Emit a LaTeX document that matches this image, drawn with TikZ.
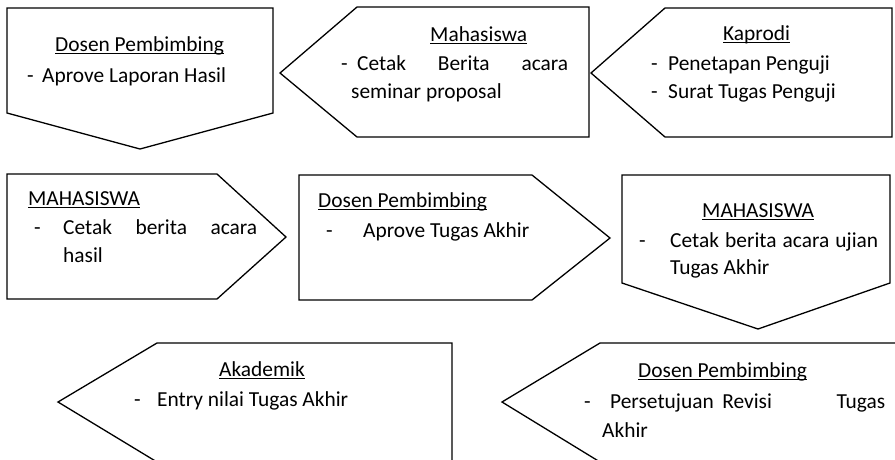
\documentclass[tikz,border=0pt]{standalone}
\usepackage{fontspec}
\setmainfont{Carlito}

\begin{document}
\begin{tikzpicture}[x=1pt,y=-1pt,
  box/.style={draw=black,line width=1.3pt,line join=miter},
  txt/.style={anchor=base west,inner sep=0pt,font=\fontsize{21.4}{28}\selectfont},
  uline/.style={line width=1.2pt}]
\useasboundingbox (0,0) rectangle (895,459);
\clip (0,0) rectangle (895,459);

% row 1
\draw[box] (7,8) -- (273,8) -- (273,113) -- (140,149) -- (7,113) -- cycle;
\node[txt] (dosA) at (55,51) {Dosen Pembimbing};
\node[txt] (dosAd) at (27,82) {-};
\node[txt] (dosAt) at (42,82) {Aprove Laporan Hasil};

\draw[box] (280,73) -- (357,7) -- (589,7) -- (589,137) -- (357,137) -- cycle;
\node[txt] (mhsA) at (430,41) {Mahasiswa};
\node[txt] (mhsAd) at (341,70) {-};
\node[txt] (mhsAt) at (357,70) {\makebox[211pt][l]{Cetak\hfill Berita\hfill acara}};
\node[txt] (mhsAu) at (351,98) {seminar proposal};

\draw[box] (591,73) -- (665,8) -- (892,8) -- (892,137) -- (665,137) -- cycle;
\node[txt] (kap) at (723,40) {Kaprodi};
\node[txt] (kapd1) at (651,70) {-};
\node[txt] (kapt1) at (668,70) {Penetapan Penguji};
\node[txt] (kapd2) at (651,98) {-};
\node[txt] (kapt2) at (668,98) {Surat Tugas Penguji};

% row 2
\draw[box] (7,174) -- (217,174) -- (286,237) -- (217,299) -- (7,299) -- cycle;
\node[txt] (mhsB) at (28,205) {MAHASISWA};
\node[txt] (mhsBd) at (34,234) {-};
\node[txt] (mhsBt) at (63,234) {\makebox[194pt][s]{Cetak berita acara}};
\node[txt] (mhsBu) at (63,262) {hasil};

\draw[box] (299,175) -- (532,175) -- (610,238) -- (532,300) -- (299,300) -- cycle;
\node[txt] (dosB) at (318,207) {Dosen Pembimbing};
\node[txt] (dosBd) at (326,237) {-};
\node[txt] (dosBt) at (363,237) {Aprove Tugas Akhir};

\draw[box] (622,175) -- (890,175) -- (890,283) -- (758,329) -- (622,283) -- cycle;
\node[txt] (mhsC) at (702,217) {MAHASISWA};
\node[txt] (mhsCd) at (639,247) {-};
\node[txt] (mhsCt) at (670,247) {\makebox[208pt][s]{Cetak berita acara ujian}};
\node[txt] (mhsCu) at (670,274) {Tugas Akhir};

% row 3
\draw[box] (58,402) -- (157,343) -- (452,343) -- (452,462) -- (157,462) -- cycle;
\node[txt] (akd) at (219,376) {Akademik};
\node[txt] (akdd) at (134,406) {-};
\node[txt] (akdt) at (157,406) {Entry nilai Tugas Akhir};

\draw[box] (502,402) -- (600,343) -- (900,343) -- (900,462) -- (600,462) -- cycle;
\node[txt] (dosC) at (638,377) {Dosen Pembimbing};
\node[txt] (dosCd) at (584,408) {-};
\node[txt] (dosCt) at (610,408) {\makebox[275pt][l]{Persetujuan\hspace{0.4em}Revisi\hfill Tugas}};
\node[txt] (dosCu) at (602,437) {Akhir};

% underlined headings
\foreach \h in {dosA,mhsA,kap,mhsB,dosB,mhsC,akd,dosC}
  \draw[uline] ([yshift=-2.6pt]\h.base west) -- ([yshift=-2.6pt]\h.base east);
\end{tikzpicture}
\end{document}
